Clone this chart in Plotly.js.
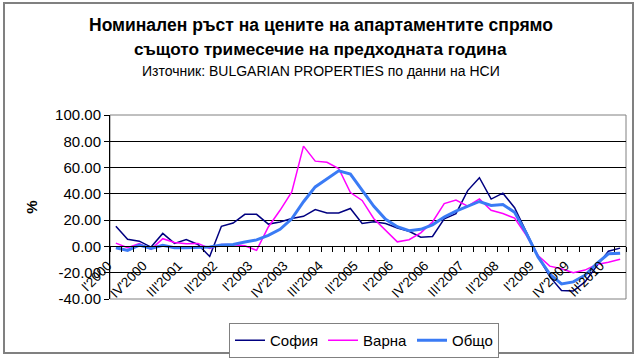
<!DOCTYPE html>
<html>
<head>
<meta charset="utf-8">
<script src="https://cdn.plot.ly/plotly-3.0.1.min.js"></script>
<style>html,body{margin:0;padding:0;background:#fff;}#chart{width:640px;height:360px;}</style>
</head>
<body>
<div id="chart"></div>
<script>
const quarters = ["I'2000","II'2000","III'2000","IV'2000","I'2001","II'2001","III'2001","IV'2001",
  "I'2002","II'2002","III'2002","IV'2002","I'2003","II'2003","III'2003","IV'2003",
  "I'2004","II'2004","III'2004","IV'2004","I'2005","II'2005","III'2005","IV'2005",
  "I'2006","II'2006","III'2006","IV'2006","I'2007","II'2007","III'2007","IV'2007",
  "I'2008","II'2008","III'2008","IV'2008","I'2009","II'2009","III'2009","IV'2009",
  "I'2010","II'2010","III'2010","IV'2010"];
const tickLabels = ["I'2000","IV'2000","III'2001","II'2002","I'2003","IV'2003","III'2004","II'2005",
  "I'2006","IV'2006","III'2007","II'2008","I'2009","IV'2009","III'2010"];
const sofia = [15.3,5.5,4,-0.5,9.9,2.3,5.3,1.5,-7.6,15.3,17.8,24.4,24.4,17,18.6,21.2,
  22.9,28.1,25.4,25.4,28.9,17.5,18.7,17.5,14,11.5,7,7.6,21,25,42.5,52.3,
  36,40.5,29.5,11,-7.6,-23,-33.6,-34,-27,-15,-3.6,-1.3];
const varna = [2.5,-1,2.2,-2.2,5.9,3,2,2.3,-1.5,1.5,1.2,0.5,-3,14.8,27.5,41.5,
  76.3,64.9,64,59.3,41,35,21.1,12.2,3.5,5.1,10.3,18.6,32.6,35.3,30.7,36.2,
  27.5,25,21.5,8.5,-6.9,-15,-17,-20,-18,-13.7,-12,-9.7];
const total = [-1,-3,1,-1.5,0.8,-1,-1,-0.5,-0.5,1,1.5,3.3,5,8.4,13,21,
  34,45.3,51.7,57.5,55,43,30.5,20.7,15,12,13,16.4,22.4,26.8,30.6,34.2,
  31.2,31.9,26,10,-8,-21,-28.5,-27,-22,-13,-5.6,-5.1];
const seriesNames = ["София","Варна","Общо"];
const yTickVals = [-40,-20,0,20,40,60,80,100];
const yTickText = ["-40.00","-20.00","0.00","20.00","40.00","60.00","80.00","100.00"];

const font = "Liberation Sans, Arial, sans-serif";
const traces = [
  {x: quarters, y: sofia, name: seriesNames[0], type: 'scatter', mode: 'lines', line: {color: '#000080', width: 1.5}},
  {x: quarters, y: varna, name: seriesNames[1], type: 'scatter', mode: 'lines', line: {color: '#FF00FF', width: 1.5}},
  {x: quarters, y: total, name: seriesNames[2], type: 'scatter', mode: 'lines', line: {color: '#3A7BF5', width: 3}}
];
const L = 110, R = 14, T = 115, B = 61, W = 640, H = 360;
const pw = W - L - R, ph = H - T - B;
const px = v => (v - L) / pw;
const py = v => (H - B - v) / ph;
const layout = {
  width: W, height: H,
  margin: {l: L, r: R, t: T, b: B},
  paper_bgcolor: '#fff', plot_bgcolor: '#fff',
  font: {family: font, color: '#000'},
  showlegend: true,
  title: {text: "<b>Номинален ръст на цените на апартаментите спрямо</b>", font: {size: 17.5, family: font, color: '#000'},
    x: 321/640, xanchor: 'center', xref: 'container', y: 1 - 25/360, yanchor: 'middle', yref: 'container'},
  annotations: [
    {text: "<b>същото тримесечие на предходната година</b>", xref: 'paper', yref: 'paper', x: px(320.5), y: py(49),
      xanchor: 'center', yanchor: 'middle', showarrow: false, font: {size: 17.2, family: font, color: '#000'}},
    {text: "Източник: BULGARIAN PROPERTIES по данни на НСИ", xref: 'paper', yref: 'paper', x: px(320.5), y: py(71),
      xanchor: 'center', yanchor: 'middle', showarrow: false, font: {size: 14, family: font, color: '#000'}}
  ],
  xaxis: {
    type: 'category', categoryorder: 'array', categoryarray: quarters,
    range: [-0.5, quarters.length - 0.5],
    tickmode: 'array', tickvals: quarters,
    ticktext: quarters.map(q => tickLabels.includes(q) ? q : ''),
    tickson: 'boundaries', ticks: 'outside', ticklen: 5, tickcolor: '#000', tickwidth: 1,
    tickangle: -45, tickfont: {size: 13.5, family: font, color: '#000'},
    ticklabelshift: -8, ticklabelstandoff: 5,
    showline: true, linecolor: '#000', linewidth: 1,
    showgrid: false, zeroline: false,
    anchor: 'free', position: 40/140
  },
  yaxis: {
    range: [-40, 100], domain: [0, 1],
    tickmode: 'array', tickvals: yTickVals, ticktext: yTickText,
    ticks: 'outside', ticklen: 5, tickcolor: '#000',
    tickfont: {size: 15, family: font, color: '#000'},
    showline: true, linecolor: '#000', linewidth: 1,
    showgrid: true, gridcolor: '#000', gridwidth: 1, zeroline: false,
    title: {text: "<b>%</b>", font: {size: 15, family: font, color: '#000'}, standoff: 13}
  },
  legend: {
    orientation: 'h', xref: 'container', yref: 'container',
    x: 364/640, xanchor: 'center', y: 1 - 323/360, yanchor: 'top',
    bordercolor: '#808080', borderwidth: 1, font: {size: 15, family: font, color: '#000'},
    itemwidth: 30, bgcolor: '#fff'
  },
  shapes: [
    {type: 'rect', xref: 'paper', yref: 'paper', x0: 0, x1: 1, y0: 0, y1: 1, line: {color: '#808080', width: 1}, layer: 'below'},
    {type: 'rect', xref: 'paper', yref: 'paper', x0: px(4), x1: px(633), y0: py(353), y1: py(3), line: {color: '#808080', width: 2}}
  ]
};
Plotly.newPlot('chart', traces, layout, {displayModeBar: false, staticPlot: true});
</script>
</body>
</html>
